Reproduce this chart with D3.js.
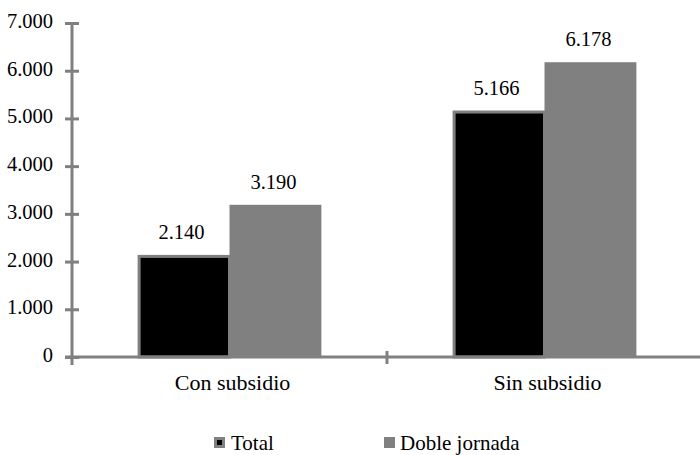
<!DOCTYPE html>
<html>
<head>
<meta charset="utf-8">
<script src="https://cdn.jsdelivr.net/npm/d3@7"></script>
</head>
<body style="margin:0">
<svg id="chart" width="700" height="455"></svg>
<script>
// Grouped bars: total vs. double shift, with and without subsidy
const categories = ["Con subsidio", "Sin subsidio"];
const seriesNames = ["Total", "Doble jornada"];
const totalValues = [2140, 5166];
const dobleValues = [3190, 6178];
const yTicks = [0, 1000, 2000, 3000, 4000, 5000, 6000, 7000];

const seriesValues = [totalValues, dobleValues];
const fills = ["#000000", "#808080"];
const axisColor = "#808080";
const serifFamilies = ["Liberation Serif"];
const fmt = v => d3.format(",")(v).replace(/,/g, ".");

const svg = d3.select("#chart");
svg.style("font-family", `"${serifFamilies[0]}"`);

// every label uses the same serif face
const label = (sel, size) => sel
  .style("font-family", `"${serifFamilies[0]}"`)
  .attr("font-size", size)
  .attr("fill", "#000");

const x0 = d3.scaleBand().domain(categories).range([72, 702]).paddingInner(0).paddingOuter(0);
const x1 = d3.scaleBand().domain(seriesNames).range([0, x0.bandwidth()])
  .paddingInner(0).paddingOuter(0.714);
const y = d3.scaleLinear().domain([0, 7000]).range([357, 23]);

const barData = (c, ci) => seriesNames.map((s, si) => ({ s, si, v: seriesValues[si][ci] }));

// Bars
const groups = svg.append("g").selectAll("g")
  .data(categories)
  .join("g")
  .attr("transform", c => `translate(${x0(c)},0)`);

groups.selectAll("rect")
  .data(barData)
  .join("rect")
  .attr("x", d => x1(d.s) + (d.si === 0 ? 1.5 : 0))
  .attr("y", d => y(d.v) + (d.si === 0 ? 1.5 : 0))
  .attr("width", d => x1.bandwidth() - (d.si === 0 ? 1.5 : 0))
  .attr("height", d => y(0) - y(d.v) - (d.si === 0 ? 1.5 : 0))
  .attr("fill", d => fills[d.si])
  .attr("stroke", d => d.si === 0 ? axisColor : "none")
  .attr("stroke-width", 3);

// Value labels
groups.selectAll("text.val")
  .data(barData)
  .join("text")
  .attr("class", "val")
  .attr("x", d => x1(d.s) + x1.bandwidth() / 2 - 2)
  .attr("y", d => y(d.v) - 16)
  .attr("text-anchor", "middle")
  .call(label, 20.5)
  .text(d => fmt(d.v));

// Y axis
const yAxis = svg.append("g").attr("transform", "translate(72,0)")
  .call(d3.axisLeft(y).tickValues(yTicks).tickFormat(fmt).tickSize(7).tickSizeOuter(0));
yAxis.attr("font-family", null).attr("font-size", null);
yAxis.select(".domain").attr("stroke", axisColor).attr("stroke-width", 3)
  .attr("d", `M0,${y(7000)}V${y(0) + 8}`);
yAxis.selectAll(".tick line").attr("stroke", axisColor).attr("stroke-width", 3)
  .attr("x1", -7).attr("x2", 7);
yAxis.selectAll(".tick text").attr("x", -19).attr("dy", "0.22em")
  .call(label, 20.5);

// X axis
const xAxis = svg.append("g").attr("transform", `translate(0,${y(0)})`);
xAxis.append("line").attr("x1", 65).attr("x2", 702).attr("y1", 0).attr("y2", 0)
  .attr("stroke", axisColor).attr("stroke-width", 3);
xAxis.selectAll("line.sep")
  .data(categories.slice(1))
  .join("line")
  .attr("class", "sep")
  .attr("x1", c => x0(c)).attr("x2", c => x0(c))
  .attr("y1", -6).attr("y2", 7)
  .attr("stroke", axisColor).attr("stroke-width", 3);
xAxis.selectAll("text")
  .data(categories)
  .join("text")
  .attr("x", c => x0(c) + x0.bandwidth() / 2 + 3)
  .attr("y", 33)
  .attr("text-anchor", "middle")
  .call(label, 22)
  .text(c => c);

// Legend
const legendX = [214, 384];
const legend = svg.append("g").selectAll("g")
  .data(seriesNames)
  .join("g")
  .attr("transform", (d, i) => `translate(${legendX[i]},437)`);
legend.append("rect")
  .attr("x", (d, i) => i === 0 ? 1.5 : 0).attr("y", (d, i) => i === 0 ? 1.5 : 0)
  .attr("width", (d, i) => i === 0 ? 8 : 11).attr("height", (d, i) => i === 0 ? 8 : 11)
  .attr("fill", (d, i) => fills[i])
  .attr("stroke", (d, i) => i === 0 ? axisColor : "none")
  .attr("stroke-width", 3);
legend.append("text")
  .attr("x", (d, i) => i === 0 ? 17 : 16).attr("y", 13)
  .call(label, 21)
  .text(d => d);
</script>
</body>
</html>
